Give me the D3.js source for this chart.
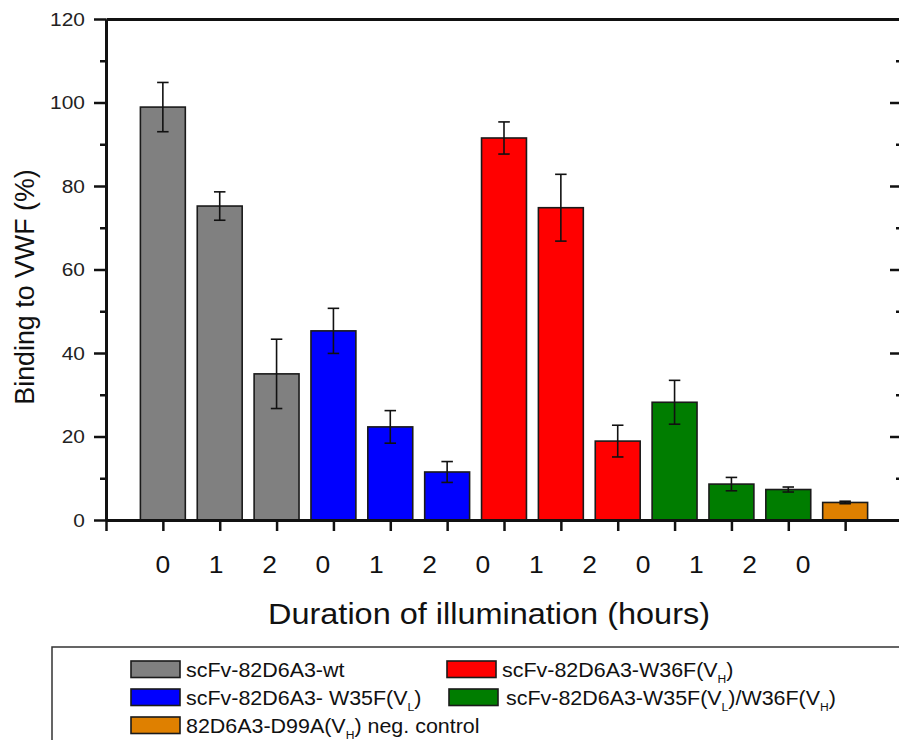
<!DOCTYPE html>
<html>
<head>
<meta charset="utf-8">
<script src="https://cdn.jsdelivr.net/npm/d3@7"></script>
<style>
  html, body { margin: 0; padding: 0; background: #fff; }
  svg { display: block; font-family: "Liberation Sans", Arial, sans-serif; }
</style>
</head>
<body>
<svg id="chart" width="899" height="740"></svg>
<script>
// Constructs, in bar order
const groupNames = [
  "scFv-82D6A3-wt",
  "scFv-82D6A3- W35F(V_L)",
  "scFv-82D6A3-W36F(V_H)",
  "scFv-82D6A3-W35F(V_L)/W36F(V_H)",
  "82D6A3-D99A(V_H) neg. control"
];
const groupColors = ["#808080", "#0000ff", "#ff0000", "#007d00", "#df8000"];

// One entry per bar
const barGroup = [0, 0, 0, 1, 1, 1, 2, 2, 2, 3, 3, 3, 4];
const binding  = [98.9, 75.2, 35.0, 45.3, 22.3, 11.5, 91.5, 74.8, 18.9, 28.2, 8.6, 7.3, 4.2];
const bindErr  = [5.9, 3.4, 8.3, 5.4, 3.9, 2.5, 3.85, 8.0, 3.8, 5.25, 1.6, 0.6, 0.3];

// Hours of illumination written under the axis
const hourLabels = ["0", "1", "2", "0", "1", "2", "0", "1", "2", "0", "1", "2", "0"];

// y axis ticks
const yMajor = [0, 20, 40, 60, 80, 100, 120];
const yMinor = [10, 30, 50, 70, 90, 110];

// legend layout: [group index, row, column]
const legendOrder = [[0, 0, 0], [2, 0, 1], [1, 1, 0], [3, 1, 1], [4, 2, 0]];

const svg = d3.select("#chart");
const ink = "#111";

const x = d3.scaleLinear().domain([0, 14]).range([106, 902]);
const y = d3.scaleLinear().domain([0, 120]).range([520, 19]);
const step = x(1) - x(0);
const barW = step * 0.79;

function styleAxis(g) {
  g.select(".domain").attr("stroke", ink).attr("stroke-width", 3);
  g.selectAll(".tick line").attr("stroke", ink).attr("stroke-width", 2.5);
}

// bars
const bars = binding.map((v, i) => ({ v, e: bindErr[i], g: barGroup[i], pos: i + 1 }));

svg.append("g").selectAll("rect").data(bars).join("rect")
  .attr("x", d => x(d.pos) - barW / 2)
  .attr("y", d => y(d.v))
  .attr("width", barW)
  .attr("height", d => y(0) - y(d.v))
  .attr("fill", d => groupColors[d.g])
  .attr("stroke", "#1a1a1a")
  .attr("stroke-width", 1.6);

// error bars
const capW = 11.5;
const eb = svg.append("g").attr("stroke", ink).attr("stroke-width", 1.6);
bars.forEach(d => {
  const cx = x(d.pos);
  eb.append("line").attr("x1", cx).attr("x2", cx).attr("y1", y(d.v + d.e)).attr("y2", y(d.v - d.e));
  [d.v + d.e, d.v - d.e].forEach(t => {
    eb.append("line").attr("x1", cx - capW / 2).attr("x2", cx + capW / 2).attr("y1", y(t)).attr("y2", y(t));
  });
});

// left axis: major ticks with labels, minor ticks without
const yAxis = svg.append("g").attr("transform", `translate(${x(0)},0)`)
  .call(d3.axisLeft(y).tickValues(yMajor).tickSize(12).tickSizeOuter(0).tickPadding(7.2))
  .call(styleAxis);
yAxis.selectAll(".tick text")
  .attr("font-size", 19)
  .attr("fill", "#222")
  .attr("font-family", "Liberation Sans, Arial, sans-serif")
  .attr("transform", "scale(1.1,1)");
svg.append("g").attr("transform", `translate(${x(0)},0)`)
  .call(d3.axisLeft(y).tickValues(yMinor).tickSize(6).tickSizeOuter(0).tickFormat(""))
  .call(styleAxis);

// right axis with inward ticks
svg.append("g").attr("transform", `translate(${x(14)},0)`)
  .call(d3.axisLeft(y).tickValues(yMajor).tickSize(12).tickSizeOuter(0).tickFormat(""))
  .call(styleAxis);
svg.append("g").attr("transform", `translate(${x(14)},0)`)
  .call(d3.axisLeft(y).tickValues(yMinor).tickSize(6).tickSizeOuter(0).tickFormat(""))
  .call(styleAxis);

// top frame line
svg.append("g").attr("transform", `translate(0,${y(120)})`)
  .call(d3.axisTop(x).tickValues([]).tickSizeOuter(0))
  .call(styleAxis);

// bottom axis, ticks under each bar
svg.append("g").attr("transform", `translate(0,${y(0)})`)
  .call(d3.axisBottom(x).tickValues(d3.range(0, 14)).tickSize(11).tickSizeOuter(0).tickFormat(""))
  .call(styleAxis);

// hour labels
const labelX = d3.scalePoint().domain(d3.range(hourLabels.length)).range([x(1), x(12.26)]);
svg.append("g").selectAll("text").data(hourLabels).join("text")
  .attr("transform", (d, i) => `translate(${labelX(i)},573) scale(1.15,1)`)
  .attr("text-anchor", "middle")
  .attr("font-size", 23)
  .attr("fill", "#111")
  .text(d => d);

// axis titles
svg.append("text")
  .attr("transform", "translate(489,624) scale(1.12,1)")
  .attr("text-anchor", "middle")
  .attr("font-size", 29)
  .attr("fill", "#111")
  .text("Duration of illumination (hours)");

svg.append("text")
  .attr("transform", "translate(33.5,287) rotate(-90)")
  .attr("text-anchor", "middle")
  .attr("font-size", 26.8)
  .attr("fill", "#111")
  .text("Binding to VWF (%)");

// legend
const legend = svg.append("g");
legend.append("rect")
  .attr("x", 52).attr("y", 647).attr("width", 870).attr("height", 120)
  .attr("fill", "none").attr("stroke", "#333").attr("stroke-width", 1.5);

const colX = [[131, 186], [447, 502]];
const rowY = [661, 689, 717];

function writeLabel(sel, label) {
  // "V_L" / "V_H" write L or H as a subscript, then return to the baseline
  const parts = label.split(/(_[LH])/).filter(p => p);
  let lowered = false;
  parts.forEach(p => {
    if (p[0] === "_") {
      sel.append("tspan").attr("font-size", 11).attr("dy", 6).text(p.slice(1));
      lowered = true;
    } else {
      const ts = sel.append("tspan").text(p);
      if (lowered) { ts.attr("dy", -6); lowered = false; }
    }
  });
}

legendOrder.forEach(([gi, r, c]) => {
  const sx = colX[c][0] + (r === 1 && c === 1 ? 2 : 0);
  const tx = colX[c][1] + (r === 1 && c === 1 ? 4 : 0);
  legend.append("rect")
    .attr("x", sx).attr("y", rowY[r]).attr("width", 49).attr("height", 16.5)
    .attr("fill", groupColors[gi]).attr("stroke", "#1a1a1a").attr("stroke-width", 1.6);
  const t = legend.append("text")
    .attr("transform", `translate(${tx},${rowY[r] + 16}) scale(1.1,1)`)
    .attr("font-size", 19.5)
    .attr("fill", "#111");
  writeLabel(t, groupNames[gi]);
});
</script>
</body>
</html>
